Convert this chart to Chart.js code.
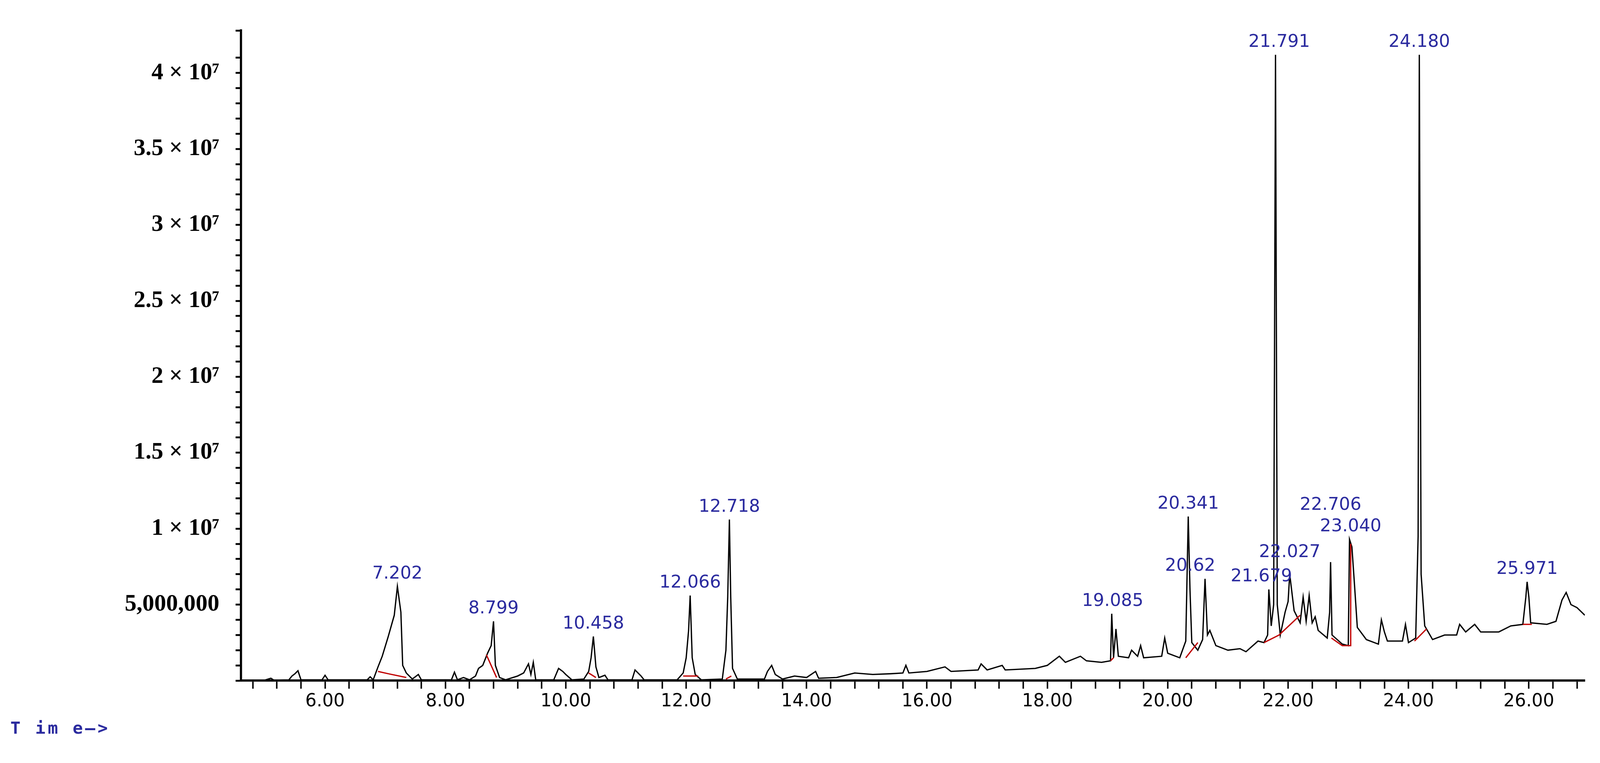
<!DOCTYPE html>
<html>
<head>
<meta charset="utf-8">
<script src="https://cdn.jsdelivr.net/npm/chart.js@4.4.1/dist/chart.umd.min.js"></script>
<style>
  html, body { margin: 0; padding: 0; background: #fff; overflow: hidden; }
  #wrap { position: relative; width: 100vw; height: 100vh; }
  #timeLabel {
    position: absolute; left: 0.65vw; top: 94.1vh;
    font: bold 1.06vw "DejaVu Sans Mono", monospace; color: #2b2b9f; letter-spacing: 0.14vw;
  }
</style>
</head>
<body>
<div id="wrap">
  <canvas id="chromatogram"></canvas>
  <div id="timeLabel">T im e&#8212;&gt;</div>
</div>
<script>
// retention time (min), abundance (millions)
const trace = [
  [4.6,0.02],[5.0,0.03],[5.1,0.15],[5.15,0.03],[5.4,0.05],[5.45,0.3],[5.5,0.45],[5.55,0.65],[5.6,0.05],
  [5.95,0.05],[6.0,0.35],[6.05,0.05],[6.7,0.05],[6.75,0.25],[6.8,0.05],[6.88,0.9],[6.95,1.6],[7.05,2.9],
  [7.15,4.3],[7.202,6.2],[7.26,4.5],[7.29,1.0],[7.35,0.5],[7.45,0.1],[7.55,0.4],[7.6,0.05],[8.1,0.05],
  [8.15,0.55],[8.2,0.05],[8.3,0.2],[8.4,0.05],[8.5,0.3],[8.55,0.8],[8.62,1.0],[8.7,1.8],[8.76,2.3],
  [8.799,3.9],[8.83,1.0],[8.9,0.2],[9.0,0.05],[9.2,0.3],[9.3,0.5],[9.38,1.1],[9.42,0.4],[9.46,1.2],
  [9.5,0.05],[9.8,0.05],[9.88,0.8],[9.95,0.6],[10.0,0.4],[10.1,0.05],[10.3,0.1],[10.38,0.6],[10.42,1.5],
  [10.458,2.9],[10.5,0.9],[10.55,0.2],[10.65,0.35],[10.7,0.05],[11.1,0.05],[11.15,0.7],[11.25,0.3],
  [11.3,0.05],[11.85,0.05],[11.95,0.5],[12.0,1.5],[12.04,3.3],[12.066,5.6],[12.1,1.5],[12.15,0.4],
  [12.25,0.05],[12.6,0.1],[12.66,2.0],[12.69,5.5],[12.718,10.6],[12.74,5.5],[12.77,0.8],[12.85,0.1],
  [13.3,0.1],[13.35,0.6],[13.42,1.0],[13.48,0.4],[13.6,0.1],[13.8,0.3],[14.0,0.2],[14.15,0.6],[14.2,0.15],
  [14.5,0.2],[14.8,0.5],[15.1,0.4],[15.4,0.45],[15.6,0.5],[15.65,1.0],[15.7,0.5],[16.0,0.6],[16.3,0.9],
  [16.4,0.6],[16.85,0.7],[16.9,1.1],[17.0,0.7],[17.25,1.0],[17.3,0.7],[17.8,0.8],[18.0,1.0],[18.2,1.6],
  [18.3,1.2],[18.55,1.6],[18.65,1.3],[18.9,1.2],[19.05,1.3],[19.07,4.4],[19.1,1.5],[19.14,3.4],[19.18,1.6],
  [19.35,1.5],[19.4,2.0],[19.5,1.6],[19.55,2.3],[19.6,1.5],[19.9,1.6],[19.95,2.8],[20.0,1.8],[20.2,1.5],
  [20.3,2.6],[20.341,10.8],[20.37,6.0],[20.4,2.5],[20.5,2.0],[20.58,2.7],[20.62,6.7],[20.66,3.0],[20.7,3.3],
  [20.8,2.3],[21.0,2.0],[21.2,2.1],[21.3,1.9],[21.5,2.6],[21.6,2.5],[21.66,3.0],[21.68,6.0],[21.72,3.6],
  [21.76,5.0],[21.791,41.2],[21.82,5.0],[21.87,3.0],[21.95,4.5],[22.0,5.2],[22.027,7.0],[22.1,4.6],
  [22.2,3.8],[22.25,5.5],[22.3,3.9],[22.35,5.6],[22.4,3.8],[22.45,4.2],[22.5,3.3],[22.65,2.8],[22.69,4.5],
  [22.706,7.8],[22.73,3.0],[22.9,2.4],[23.0,2.3],[23.02,9.3],[23.06,8.8],[23.1,6.5],[23.15,3.5],[23.3,2.7],
  [23.5,2.4],[23.55,4.0],[23.6,3.2],[23.65,2.6],[23.9,2.6],[23.95,3.7],[24.0,2.5],[24.12,2.8],[24.16,9.5],
  [24.18,41.2],[24.21,7.0],[24.27,3.6],[24.4,2.7],[24.6,3.0],[24.8,3.0],[24.85,3.7],[24.95,3.2],[25.1,3.7],
  [25.2,3.2],[25.5,3.2],[25.7,3.6],[25.9,3.7],[25.95,5.5],[25.971,6.5],[26.0,5.5],[26.03,3.8],[26.3,3.7],
  [26.45,3.9],[26.55,5.3],[26.62,5.8],[26.7,5.0],[26.8,4.8],[26.93,4.3]
];

// integration baselines drawn in red
const baselines = [
  [[6.88,0.6],[7.05,0.45],[7.35,0.2]],
  [[8.68,1.7],[8.85,0.2]],
  [[10.38,0.5],[10.5,0.2]],
  [[11.95,0.3],[12.2,0.3]],
  [[12.66,0.1],[12.75,0.3]],
  [[19.05,1.3],[19.1,1.5]],
  [[20.3,1.5],[20.5,2.5]],
  [[21.6,2.5],[21.85,3.0],[22.2,4.3]],
  [[22.72,2.8],[22.9,2.3],[23.04,2.3],[23.04,9.0]],
  [[24.1,2.6],[24.3,3.4]],
  [[25.9,3.7],[26.05,3.7]]
];

const peakTimes = [7.202, 8.799, 10.458, 12.066, 12.718, 19.085, 20.341, 20.62, 21.679, 21.791, 22.027, 22.706, 23.040, 24.180, 25.971];
const peakTops = [6.2, 3.9, 2.9, 5.6, 10.6, 4.4, 10.8, 6.7, 6.0, 41.2, 7.0, 7.8, 9.3, 41.2, 6.5];
const peakLabels = ["7.202", "8.799", "10.458", "12.066", "12.718", "19.085", "20.341", "20.62", "21.679", "21.791", "22.027", "22.706", "23.040", "24.180", "25.971"];

const fmtY = (v) => {
    if (Math.abs(v % 5) > 1e-6 || v === 0) return "";
    if (v === 5) return "5,000,000";
    return (v / 10) + " × 10⁷";
};

// everything below is sized relative to the canvas so the page fits any window
const W = window.innerWidth, H = window.innerHeight;
const k = W / 4326;

// extra lift / shift for crowded labels (reference px)
const labelLift = { "22.706": 120, "22.027": 25 };
const labelShift = { "20.62": -40, "21.679": -20, "21.791": 10 };

const peakLabelPlugin = {
    id: "peakLabels",
    afterDatasetsDraw(chart) {
        const { ctx, scales: { x, y } } = chart;
        ctx.save();
        ctx.font = Math.round(48 * k) + "px 'DejaVu Sans'";
        ctx.fillStyle = "#2b2b9f";
        ctx.textAlign = "center";
        ctx.textBaseline = "bottom";
        peakLabels.forEach((lab, i) => {
            const px = x.getPixelForValue(peakTimes[i]) + (labelShift[lab] || 0) * k;
            const py = y.getPixelForValue(peakTops[i]) - (10 + (labelLift[lab] || 0)) * k;
            ctx.fillText(lab, px, py);
        });
        ctx.restore();
    }
};

const datasets = [{
    data: trace.map(p => ({ x: p[0], y: p[1] })),
    borderColor: "#000",
    borderWidth: 3.5 * k,
    pointRadius: 0,
    tension: 0,
    order: 1,
}];
baselines.forEach(seg => datasets.push({
    data: seg.map(p => ({ x: p[0], y: p[1] })),
    borderColor: "#c00000",
    borderWidth: 3.5 * k,
    pointRadius: 0,
    order: 0,
}));

new Chart(document.getElementById("chromatogram"), {
    type: "line",
    data: { datasets },
    plugins: [peakLabelPlugin],
    options: {
        responsive: true,
        maintainAspectRatio: false,
        animation: false,
        layout: { padding: { top: 50 * H / 1953, right: 41 * k, left: 0, bottom: 0 } },
        plugins: { legend: { display: false }, tooltip: { enabled: false } },
        scales: {
            x: {
                type: "linear",
                min: 4.6,
                max: 26.93,
                afterFit: (s) => { s.height = 211 * H / 1953; },
                afterBuildTicks: (s) => {
                    const t = [];
                    for (let v = 4.8; v <= 26.9; v += 0.4) t.push({ value: Math.round(v * 10) / 10 });
                    s.ticks = t;
                },
                grid: { display: true, drawOnChartArea: false, drawTicks: true, tickLength: 22 * k, color: "#000", tickColor: "#000", tickWidth: 4 * k },
                border: { color: "#000", width: 6 * k },
                ticks: {
                    autoSkip: false,
                    maxRotation: 0,
                    color: "#000",
                    font: { family: "DejaVu Sans", size: 48 * k },
                    padding: 6 * k,
                    callback: (v) => (Math.abs(v % 2) < 1e-6 ? v.toFixed(2) : ""),
                },
            },
            y: {
                min: 0,
                max: 42.8,
                afterFit: (s) => { s.width = 651 * k; },
                grid: { display: true, drawOnChartArea: false, drawTicks: true, tickLength: 14 * k, color: "#000", tickColor: "#000", tickWidth: 5 * k },
                border: { color: "#000", width: 6 * k },
                ticks: {
                    stepSize: 1,
                    autoSkip: false,
                    color: "#000",
                    font: { family: "Liberation Serif", size: 64 * k, weight: "bold" },
                    padding: 44 * k,
                    callback: fmtY,
                },
            },
        },
    },
});
</script>
</body>
</html>
